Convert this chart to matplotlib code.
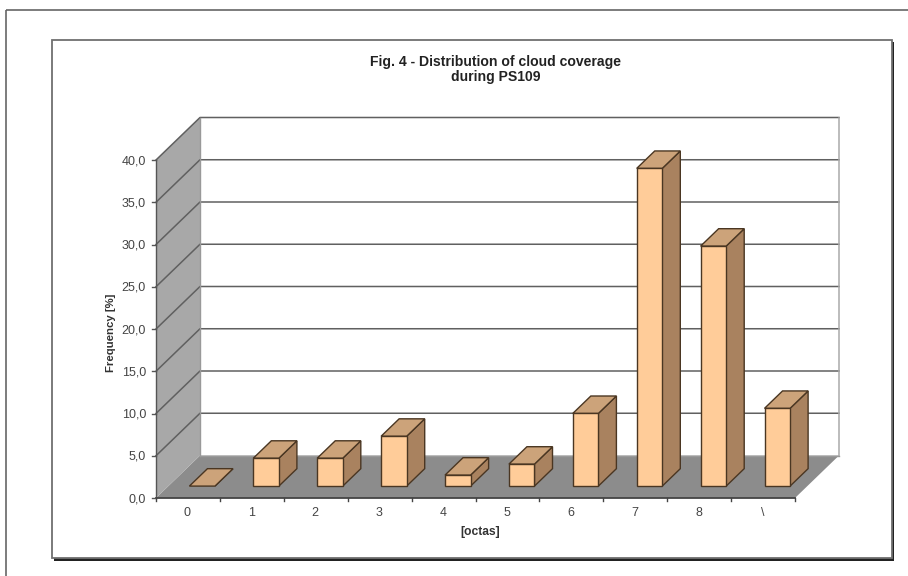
import matplotlib

matplotlib.use("agg")
import matplotlib.pyplot as plt
from matplotlib.patches import Polygon, Rectangle

categories = ["0", "1", "2", "3", "4", "5", "6", "7", "8", "\\"]
frequency = [0.0, 3.3, 3.3, 5.9, 1.3, 2.6, 8.6, 37.6, 28.4, 9.2]
y_ticks = [0, 5, 10, 15, 20, 25, 30, 35, 40]
y_labels = ["0,0", "5,0", "10,0", "15,0", "20,0", "25,0", "30,0", "35,0", "40,0"]

W, H = 908, 576
CAT_W = 63.9  # pixels per category
VAL_H = 8.45  # pixels per percent
X0, Y0 = 156, 498  # front corner of the axes, pixels from top left
DEPTH_X = 44 / CAT_W  # depth offset in category units
DEPTH_Y = 42.5 / VAL_H  # depth offset in percent
BAR_LEFT = 0.33  # bar start inside a category
BAR_WIDTH = 0.40
BAR_DEPTH = (0.28, 0.69)  # front and back of a bar along the depth axis

FACE = "#ffcc99"
TOP = "#cca37a"
SIDE = "#a9825f"
EDGE = "#4a3622"
WALL = "#a8a8a8"
FLOOR = "#8c8c8c"
GRID = "#606060"
TEXT = "#444444"


def project(x, y, d=0.0):
    return (x + d * DEPTH_X, y + d * DEPTH_Y)


def add_poly(ax, corners, **kw):
    ax.add_patch(Polygon([project(*c) for c in corners], closed=True, **kw))


def draw_bar(ax, i, value):
    left, right = i + BAR_LEFT, i + BAR_LEFT + BAR_WIDTH
    d0, d1 = BAR_DEPTH
    style = dict(edgecolor=EDGE, lw=1.0, joinstyle="miter", zorder=5)
    add_poly(ax, [(right, 0, d0), (right, 0, d1), (right, value, d1), (right, value, d0)],
             facecolor=SIDE, **style)
    add_poly(ax, [(left, value, d0), (right, value, d0), (right, value, d1), (left, value, d1)],
             facecolor=TOP, **style)
    if value > 0:
        add_poly(ax, [(left, 0, d0), (right, 0, d0), (right, value, d0), (left, value, d0)],
                 facecolor=FACE, **style)


fig = plt.figure(figsize=(W / 100, H / 100), dpi=100, facecolor="white")
plt.rcParams["font.family"] = ["Liberation Sans", "DejaVu Sans"]

# page and chart frames, in pixels
page = fig.add_axes([0, 0, 1, 1])
page.set_xlim(0, W)
page.set_ylim(H, 0)
page.axis("off")
page.add_patch(Rectangle((6, 10), 960, 700, fill=False, edgecolor="#666666", lw=1.2))
page.add_patch(Rectangle((54, 42), 839.5, 518.5, facecolor="#222222", edgecolor="none"))
page.add_patch(Rectangle((52, 40), 839.5, 518, facecolor="white", edgecolor="#707070", lw=1.3))

# chart axes: x in categories, y in percent, same extent as the figure
ax = fig.add_axes([0, 0, 1, 1])
ax.set_xlim(-X0 / CAT_W, (W - X0) / CAT_W)
ax.set_ylim(-(H - Y0) / VAL_H, Y0 / VAL_H)
ax.axis("off")
ax.patch.set_alpha(0)

n = len(categories)
top = y_ticks[-1]

# floor, side wall and back wall edge
add_poly(ax, [(0, 0, 0), (n, 0, 0), (n, 0, 1), (0, 0, 1)], facecolor=FLOOR, edgecolor="none", zorder=1)
add_poly(ax, [(0, 0, 0), (0, 0, 1), (0, top, 1), (0, top, 0)], facecolor=WALL, edgecolor="none", zorder=1)

# gridlines run along the wall and across the back
for t in y_ticks[1:]:
    xs, ys = zip(project(0, t, 0), project(0, t, 1), project(n, t, 1))
    ax.plot(xs, ys, color=GRID, lw=1.1, zorder=2)
xs, ys = zip(project(n, 0, 1), project(n, top, 1))
ax.plot(xs, ys, color="#aaaaaa", lw=1.1, zorder=2)
xs, ys = zip(project(0, 0, 1), project(0, top, 1))
ax.plot(xs, ys, color="#999999", lw=1.0, zorder=2)
xs, ys = zip(project(0, 0, 1), project(n, 0, 1))
ax.plot(xs, ys, color="#999999", lw=1.0, zorder=2)

# front axis lines and ticks
ax.plot([0, 0], [0, top], color="#555555", lw=1.0, zorder=3)
ax.plot([0, n], [0, 0], color="#444444", lw=1.3, zorder=3)
for t, label in zip(y_ticks, y_labels):
    ax.plot([-4 / CAT_W, 0], [t, t], color="#555555", lw=1.0, zorder=3)
    ax.text(-10 / CAT_W, t - 1.2 / VAL_H, label, ha="right", va="center", fontsize=9.0, color=TEXT)
for i in range(n + 1):
    ax.plot([i, i], [0, -3 / VAL_H], color="#444444", lw=1.0, zorder=3)
for i, label in enumerate(categories):
    ax.text(i + 0.49, -14.5 / VAL_H, label, ha="center", va="center", fontsize=9.0, color=TEXT)

for i, value in enumerate(frequency):
    draw_bar(ax, i, value)

ax.text(-46 / CAT_W + 0.015, 19.6, "Frequency [%]", rotation=90, ha="center", va="center",
        fontsize=8.2, fontweight="bold", color="#333333")
ax.text(5.07, -34 / VAL_H, "[octas]", ha="center", va="center",
        fontsize=8.7, fontweight="bold", color="#333333")

page.text(495.5, 69.5, "Fig. 4 - Distribution of cloud coverage\nduring PS109", ha="center", va="center",
          fontsize=10.1, fontweight="bold", color="#222222", linespacing=1.15)

fig.savefig("out.png", dpi=100)
